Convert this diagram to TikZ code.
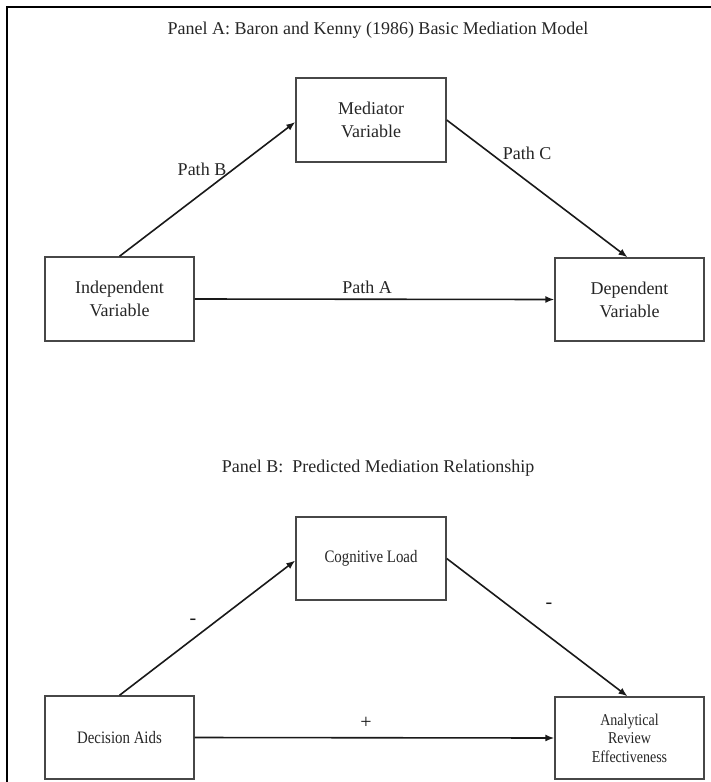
\documentclass[tikz,border=0pt]{standalone}
\usepackage{fontspec}
\setmainfont{Liberation Serif}
\usetikzlibrary{arrows.meta}
% narrow setting of the Panel B box labels
\newcommand{\narrowtxt}[1]{\scalebox{0.85}[1]{#1}}
\begin{document}
\begin{tikzpicture}[x=1pt,y=-1pt,
  box/.style={draw=black!72, line width=1.4pt, inner sep=0pt, align=center, text=black!85},
  bigtext/.style={font=\fontsize{18}{23}\selectfont},
  smalltext/.style={font=\fontsize{17.5}{18.5}\selectfont},
  stacktext/.style={font=\fontsize{16.5}{18.5}\selectfont},
  link/.style={line width=1.6pt, draw=black!90, -{Latex[length=9pt,width=7pt]}},
  lbl/.style={font=\fontsize{18}{22}\selectfont, text=black!85, inner sep=0pt},
  sign/.style={font=\fontsize{20}{22}\selectfont, text=black!90, inner sep=0pt},
]
\useasboundingbox (0,0) rectangle (711,782);
\fill[white] (0,0) rectangle (711,782);
% frame along the left and top edges
\draw[line width=2.5pt] (7,782) -- (7,7) -- (711,7);

% ---------- Panel A ----------
\node[lbl] (titleA) at (378,30) {Panel A: Baron and Kenny (1986) Basic Mediation Model};
\node[box, bigtext, minimum width=149pt, minimum height=84pt] (ind) at (119.5,299) {Independent\\Variable};
\node[box, bigtext, minimum width=150pt, minimum height=84pt] (med) at (371,120) {Mediator\\Variable};
\node[box, bigtext, minimum width=149pt, minimum height=83pt] (dep) at (629.5,299.5) {Dependent\\Variable};

\draw[link] (ind.north) -- ([yshift=-2pt]med.west);
\draw[link] (med.east) -- ([xshift=-2pt]dep.north);
\draw[link] (ind.east) -- (dep.west);

\node[lbl] (pathB) at (202,169) {Path B};
\node[lbl] (pathC) at (527,153) {Path C};
\node[lbl] (pathA) at (367,287) {Path A};

% ---------- Panel B ----------
\node[lbl] (titleB) at (378,468) {Panel B:\ \ Predicted Mediation Relationship};
\node[box, smalltext, minimum width=149pt, minimum height=83pt] (aids) at (119.5,737.5) {\narrowtxt{Decision Aids}};
\node[box, smalltext, minimum width=150pt, minimum height=83pt] (load) at (371,558.5) {\narrowtxt{Cognitive Load}};
\node[box, stacktext, minimum width=149pt, minimum height=82pt] (eff) at (629.5,738)
  {\narrowtxt{Analytical}\\\narrowtxt{Review}\\\narrowtxt{Effectiveness}};

\draw[link] (aids.north) -- ([yshift=-2pt]load.west);
\draw[link] (load.east) -- ([xshift=-2pt]eff.north);
\draw[link] (aids.east) -- (eff.west);

\node[sign] (signB) at (193,622) {-};
\node[sign] (signC) at (549,606) {-};
\node[sign] (signA) at (366,723) {+};
\end{tikzpicture}
\end{document}
